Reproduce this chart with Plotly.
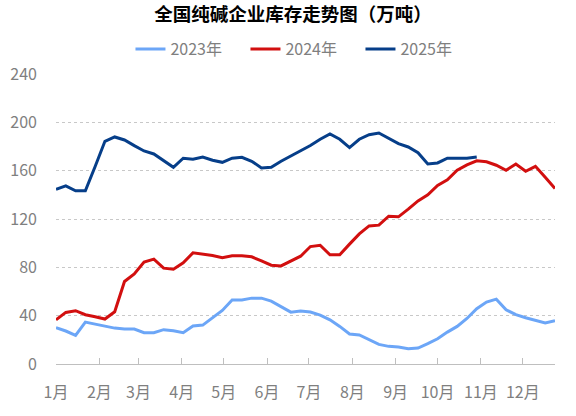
import pandas as pd
import plotly.graph_objects as go

# weekly inventory, 10k tonnes
weeks = pd.date_range("2023-01-01", periods=52, freq="7D")

inv_2023 = [30.0, 27.3, 23.7, 34.7, 33.0, 31.4, 29.7, 28.9, 28.9, 25.9,
            25.9, 28.4, 27.5, 25.9, 31.4, 32.2, 38.3, 44.3, 52.9, 52.9,
            54.5, 54.5, 52.0, 47.1, 42.9, 43.8, 43.0, 40.5, 36.6, 31.1,
            24.8, 24.0, 20.4, 16.2, 14.6, 14.0, 12.7, 13.2, 16.8, 20.9,
            26.4, 31.1, 37.7, 45.7, 51.2, 53.7, 44.9, 40.8, 38.3, 36.3,
            33.9, 35.8]

inv_2024 = [36.6, 42.7, 44.1, 40.8, 39.1, 37.2, 43.2, 68.3, 74.6, 84.3,
            86.8, 79.3, 78.5, 83.7, 92.0, 91.2, 89.8, 87.9, 89.5, 89.5,
            88.7, 85.4, 81.8, 81.2, 85.4, 89.2, 97.2, 98.3, 90.4, 90.4,
            99.2, 107.7, 114.3, 114.9, 122.3, 121.8, 128.1, 135.0, 140.0, 147.7,
            152.4, 160.3, 164.8, 168.1, 167.3, 164.5, 160.3, 165.5, 159.5, 163.6,
            154.5, 145.2]

inv_2025 = [144.6, 147.4, 143.3, 143.3, 163.5, 184.3, 187.9, 185.4, 180.7, 176.3,
            173.8, 168.3, 162.8, 170.3, 169.4, 171.3, 168.6, 166.9, 170.3, 171.1,
            167.8, 162.3, 162.8, 167.8, 172.2, 176.4, 180.8, 186.0, 190.4, 186.0,
            179.1, 186.0, 189.8, 191.2, 186.8, 182.4, 179.6, 174.9, 165.6, 166.4,
            170.3, 170.3, 170.3, 171.4]

series = [("2023年", inv_2023, "#6CA6F7"),
          ("2024年", inv_2024, "#D20F0F"),
          ("2025年", inv_2025, "#063E89")]

FONT = "Noto Sans CJK SC"
GREY = "#7f7f7f"

fig = go.Figure()
for name, vals, color in series:
    fig.add_trace(go.Scatter(
        x=weeks[:len(vals)], y=vals, name=name, mode="lines",
        line=dict(color=color, width=3)
    ))

fig.update_layout(
    width=576, height=416,
    margin=dict(l=56, r=21, t=74, b=52, autoexpand=False),
    paper_bgcolor="white", plot_bgcolor="white",
    font=dict(family=FONT, size=16, color=GREY),
    title=dict(text="<b>全国纯碱企业库存走势图（万吨）</b>",
               x=0.475, xref="paper", xanchor="center",
               y=1 - 15 / 416, yref="container", yanchor="middle",
               font=dict(family=FONT, size=18.5, color="black")),
    legend=dict(orientation="h", x=0.526, xref="container", xanchor="center",
                y=1 - 49 / 416, yref="container", yanchor="middle",
                font=dict(size=16, color=GREY),
                entrywidth=70, entrywidthmode="pixels"),
    showlegend=True,
)

fig.update_xaxes(
    range=["2023-01-01", "2023-12-24"],
    tick0="2023-01-01", dtick="M1", tickformat="%-m月",
    showgrid=False, zeroline=False, automargin=False,
    showline=True, linecolor="#bfbfbf", linewidth=1,
    ticks="inside", ticklen=6, tickcolor="#bfbfbf",
    ticklabelstandoff=14,
)

fig.update_yaxes(
    range=[0, 240], dtick=40, automargin=False,
    showgrid=True, gridcolor="#c8c8c8", griddash="3px,3px", gridwidth=1,
    zeroline=False, showline=False,
    ticklabelstandoff=18,
)

# drop the default 8px page margin so the figure sits at the window corner
fig.write_html("out.html", config={"displayModeBar": False},
               post_script="document.body.style.margin = '0';")
